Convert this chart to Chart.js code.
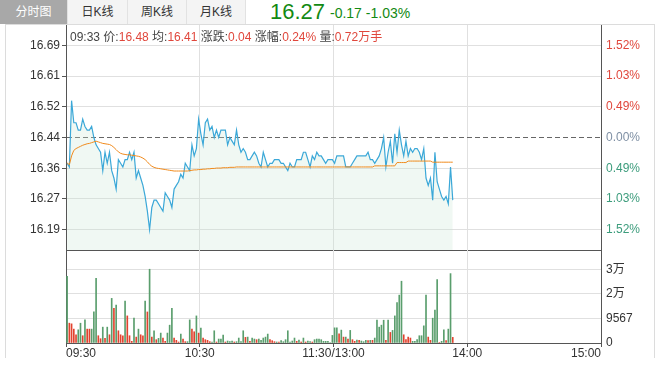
<!DOCTYPE html>
<html><head><meta charset="utf-8">
<script src="https://cdn.jsdelivr.net/npm/chart.js@4.4.1/dist/chart.umd.min.js"></script>
<style>
html,body{margin:0;padding:0;background:#fff;width:667px;height:380px;overflow:hidden;font-family:"Liberation Sans",Arial,"Noto Sans CJK SC",sans-serif;}
#wrap{position:relative;width:667px;height:380px;}
.tab{position:absolute;top:0;height:24px;line-height:24px;font-size:12px;text-align:center;color:#333;background:#f4f4f4;border-right:1px solid #e2e2e2;box-sizing:border-box;}
.tab.active{background:#a8a8a8;color:#fff;}
#box{position:absolute;left:5px;top:24px;width:650px;height:334px;border:1px solid #dcdcdc;border-bottom:none;box-sizing:border-box;}
#last{position:absolute;left:270px;top:1px;font-size:22px;line-height:22px;color:#138a13;}
#chg{position:absolute;left:330px;top:6px;font-size:14px;line-height:14px;color:#138a13;}
#info{position:absolute;left:70px;top:30px;font-size:12px;line-height:14px;color:#444;white-space:nowrap;z-index:5;}
#info .v{color:#e0473c;}
canvas{position:absolute;left:0;}
</style></head>
<body><div id="wrap">
<div class="tab active" style="left:0;width:68px;">分时图</div>
<div class="tab" style="left:68px;width:60px;">日K线</div>
<div class="tab" style="left:128px;width:59px;">周K线</div>
<div class="tab" style="left:187px;width:59px;">月K线</div>
<div id="last">16.27</div>
<div id="chg">-0.17 -1.03%</div>
<div id="box"></div>
<canvas id="c1" width="667" height="232" style="top:20px;width:667px;height:232px"></canvas>
<canvas id="c2" width="667" height="132" style="top:248px;width:667px;height:132px"></canvas>
<div id="info">09:33 价:<span class="v">16.48</span> 均:<span class="v">16.41</span> 涨跌:<span class="v">0.04</span> 涨幅:<span class="v">0.24%</span> 量:<span class="v">0.72万手</span></div>
</div>
<script>
// ---- data ----
const prevClose = 16.44;
const totalMinutes = 240;
const prices = [
16.37,16.36,16.54,16.48,16.48,16.46,16.46,16.49,16.47,16.46,
16.46,16.47,16.44,16.42,16.41,16.40,16.35,16.40,16.37,16.40,
16.35,16.33,16.30,16.38,16.37,16.36,16.38,16.38,16.40,16.38,
16.40,16.33,16.35,16.33,16.31,16.28,16.24,16.19,16.25,16.27,
16.27,16.26,16.25,16.24,16.29,16.28,16.27,16.25,16.30,16.31,
16.32,16.34,16.33,16.37,16.36,16.35,16.42,16.39,16.41,16.49,
16.45,16.42,16.48,16.49,16.46,16.47,16.44,16.46,16.44,16.46,
16.46,16.46,16.42,16.44,16.43,16.42,16.46,16.42,16.40,16.41,
16.40,16.38,16.38,16.39,16.40,16.39,16.37,16.36,16.40,16.38,
16.36,16.37,16.37,16.38,16.38,16.38,16.37,16.37,16.36,16.35,
16.37,16.36,16.36,16.38,16.38,16.38,16.40,16.40,16.38,16.36,
16.39,16.38,16.40,16.39,16.39,16.38,16.37,16.38,16.38,16.38,
16.37,16.39,16.39,16.39,16.39,16.36,16.36,16.36,16.37,16.38,
16.39,16.39,16.39,16.39,16.39,16.40,16.38,16.38,16.37,16.38,
16.39,16.41,16.44,16.36,16.40,16.43,16.37,16.45,16.40,16.46,
16.42,16.39,16.43,16.39,16.41,16.40,16.41,16.41,16.40,16.38,
16.41,16.33,16.31,16.33,16.27,16.40,16.32,16.30,16.28,16.27,
16.28,16.26,16.36,16.27];
const avgPrices = [
16.371,16.366,16.39,16.405,16.41,16.413,16.416,16.419,16.421,16.423,
16.424,16.426,16.428,16.43,16.428,16.426,16.424,16.423,16.422,16.421,
16.418,16.413,16.407,16.401,16.397,16.395,16.394,16.393,16.393,16.392,
16.391,16.39,16.389,16.387,16.384,16.38,16.374,16.367,16.362,16.359,
16.357,16.356,16.355,16.354,16.353,16.352,16.351,16.35,16.349,16.349,
16.349,16.349,16.349,16.349,16.349,16.35,16.351,16.352,16.352,16.353,
16.353,16.354,16.354,16.355,16.355,16.356,16.356,16.357,16.357,16.357,
16.358,16.358,16.358,16.359,16.359,16.359,16.36,16.36,16.36,16.36,
16.36,16.36,16.36,16.36,16.36,16.36,16.36,16.36,16.36,16.36,
16.36,16.36,16.36,16.36,16.36,16.36,16.36,16.36,16.36,16.36,
16.36,16.36,16.36,16.36,16.36,16.36,16.36,16.36,16.36,16.36,
16.36,16.36,16.36,16.36,16.36,16.36,16.36,16.36,16.36,16.36,
16.36,16.36,16.36,16.36,16.36,16.36,16.36,16.36,16.36,16.36,
16.36,16.36,16.36,16.36,16.36,16.36,16.36,16.36,16.363,16.363,
16.363,16.363,16.363,16.363,16.363,16.363,16.363,16.363,16.372,16.372,
16.372,16.372,16.372,16.376,16.376,16.376,16.376,16.376,16.376,16.376,
16.376,16.376,16.376,16.376,16.373,16.373,16.373,16.373,16.373,16.373,
16.373,16.373,16.373,16.373];
const volumes = [
25960,7716,7450,5400,3200,5140,7700,2830,9000,5400,
5400,5400,12080,25200,2830,1670,6170,1800,6170,3200,
17360,13500,14790,4760,3200,2830,16330,10540,2830,650,
9650,2300,5400,3200,2830,16330,12080,28701,2300,4760,
1290,1800,3860,1930,650,3860,6940,13500,1930,1030,
390,3470,1540,520,520,9000,5400,4370,10540,3860,
5790,1930,1290,1030,520,390,4760,390,1540,1540,
3090,390,770,520,770,390,520,1930,520,4760,
2190,2300,650,1930,1540,1290,1540,1030,1930,2300,
3470,1290,900,520,390,390,900,520,1290,4760,
390,770,1930,650,1160,390,1930,390,770,520,
390,1290,1540,1540,1290,650,650,650,200,2960,
5900,5900,3590,5020,2300,2300,1540,4900,1290,650,
1160,1030,770,520,1030,900,1030,1030,1930,8870,
6170,6940,8870,1030,8870,4120,4900,10540,15700,18630,
24040,3200,1290,2300,1930,650,650,1290,2830,2830,
6680,18630,2300,1030,9650,12850,24690,200,650,5140,
900,5400,27000,2190];
// 1 = up (red), -1 = down (green)
const volumeDirs = [
-1,1,1,1,1,-1,-1,1,-1,1,
1,-1,-1,-1,1,1,-1,1,-1,1,
-1,1,-1,1,1,1,-1,1,1,1,
-1,1,-1,1,1,-1,1,-1,1,-1,
1,-1,-1,1,1,-1,-1,-1,1,1,
1,-1,1,1,-1,-1,1,1,-1,1,
-1,1,1,1,1,-1,-1,1,-1,-1,
-1,1,-1,-1,-1,1,-1,-1,-1,-1,
1,-1,1,-1,-1,1,-1,-1,-1,-1,
-1,1,1,1,-1,1,-1,-1,-1,-1,
-1,-1,-1,1,-1,1,-1,1,-1,-1,
1,-1,-1,-1,-1,-1,-1,-1,-1,-1,
-1,-1,1,-1,1,-1,1,-1,1,1,
-1,1,-1,-1,-1,1,-1,1,-1,-1,
-1,-1,-1,1,-1,1,-1,-1,-1,-1,
-1,1,1,1,1,-1,-1,-1,-1,-1,
-1,-1,1,1,-1,-1,-1,1,-1,-1,
1,-1,-1,1];
const priceTickLabels = ['16.19','16.27','16.36','16.44','16.52','16.61','16.69'];
const pctTickLabels = ['1.52%','1.03%','0.49%','0.00%','0.49%','1.03%','1.52%'];
const timeTickMinutes = [0, 60, 120, 180, 240];
const timeTickLabels = ['09:30','10:30','11:30/13:00','14:00','15:00'];
const volTickValues = [0, 9567, 19134, 28701];
const volTickLabels = ['0','9567','2万','3万'];

// ---- derived ----
const priceStep = (parseFloat(priceTickLabels[6]) - prevClose) / 3;
const priceTickValues = priceTickLabels.map((_, k) => prevClose + (k - 3) * priceStep);
const halfRange = priceStep * 3.665;
const volMax = volTickValues[3] * 93.3 / 74;

const FONT = '"Liberation Sans", Arial, "Noto Sans CJK SC", sans-serif';
Chart.defaults.font.family = FONT;
Chart.defaults.font.size = 12;
const AXIS = '#555', GRID = '#e0e0e0';
const RED = '#e2432f', GREEN = '#5a9e6d';

function fixW(w) { return s => { s.width = w; s.paddingTop = 0; s.paddingBottom = 0; s.paddingLeft = 0; s.paddingRight = 0; }; }
function fixH(h) { return s => { s.height = h; s.paddingTop = 0; s.paddingBottom = 0; s.paddingLeft = 0; s.paddingRight = 0; }; }

new Chart(document.getElementById('c1'), {
  type: 'line',
  data: { datasets: [
    { data: prices.map((p, i) => ({ x: i + 0.5, y: p })), borderColor: '#3ba8d8', borderWidth: 1.2,
      pointRadius: 0, tension: 0, fill: 'start', backgroundColor: 'rgba(200,230,210,0.27)', order: 2 },
    { data: avgPrices.map((p, i) => ({ x: i + 0.5, y: p })), borderColor: '#f08a1c', borderWidth: 1,
      pointRadius: 0, tension: 0, fill: false, order: 1 }
  ]},
  options: {
    responsive: false, animation: false, events: [],
    layout: { padding: { top: 5, bottom: 2, left: 0, right: 0 } },
    plugins: { legend: { display: false }, tooltip: { enabled: false } },
    scales: {
      x: { type: 'linear', min: 0, max: totalMinutes,
        afterBuildTicks: s => { s.ticks = timeTickMinutes.slice(1, 4).map(v => ({ value: v })); },
        ticks: { display: false }, grid: { color: GRID, drawTicks: false },
        border: { display: true, color: AXIS }, afterFit: fixH(0) },
      y: { position: 'left', min: prevClose - halfRange, max: prevClose + halfRange,
        afterBuildTicks: s => { s.ticks = priceTickValues.map(v => ({ value: v })); },
        ticks: { callback: (v, i) => priceTickLabels[i], color: '#333', padding: 2 },
        grid: { color: c => c.index === 3 ? '#666' : GRID, tickColor: AXIS, tickLength: 4 },
        border: { color: AXIS, dash: c => (c.type === 'tick' && c.index === 3) ? [5, 3] : [] },
        afterFit: fixW(66) },
      y2: { position: 'right', min: prevClose - halfRange, max: prevClose + halfRange,
        afterBuildTicks: s => { s.ticks = priceTickValues.map(v => ({ value: v })); },
        ticks: { callback: (v, i) => pctTickLabels[i], padding: 5,
          color: c => c.index < 3 ? '#3c9c7c' : (c.index === 3 ? '#7f90a4' : '#e0473c') },
        grid: { drawOnChartArea: false, drawTicks: false },
        border: { color: AXIS }, afterFit: fixW(66) }
    }
  }
});

new Chart(document.getElementById('c2'), {
  type: 'bar',
  data: { datasets: [{
    data: volumes.map((v, i) => ({ x: i + 0.5, y: v })),
    backgroundColor: volumeDirs.map(d => d > 0 ? RED : GREEN),
    barThickness: 1, borderWidth: 0
  }]},
  options: {
    responsive: false, animation: false, events: [],
    layout: { padding: { top: 2, bottom: 17, left: 0, right: 0 } },
    plugins: { legend: { display: false }, tooltip: { enabled: false } },
    scales: {
      x: { type: 'linear', min: 0, max: totalMinutes, offset: false,
        afterBuildTicks: s => { s.ticks = timeTickMinutes.map(v => ({ value: v })); },
        ticks: { callback: (v, i) => timeTickLabels[i], align: 'inner', autoSkip: false, maxRotation: 0, color: '#333', padding: -1 },
        grid: { color: c => (c.index === 0 || c.index === timeTickMinutes.length - 1) ? AXIS : GRID, tickColor: AXIS, tickLength: 4, offset: false },
        border: { color: AXIS }, afterFit: fixH(20) },
      y: { position: 'left', min: 0, max: volMax, ticks: { display: false },
        grid: { drawOnChartArea: false, drawTicks: false }, border: { color: AXIS },
        afterFit: fixW(66) },
      y2: { position: 'right', min: 0, max: volMax,
        afterBuildTicks: s => { s.ticks = volTickValues.map(v => ({ value: v })); },
        ticks: { callback: (v, i) => volTickLabels[i], color: '#333', padding: 5 },
        grid: { color: c => c.index === 0 ? AXIS : GRID, drawTicks: false },
        border: { color: AXIS }, afterFit: fixW(66) }
    }
  }
});
</script>
</body></html>
